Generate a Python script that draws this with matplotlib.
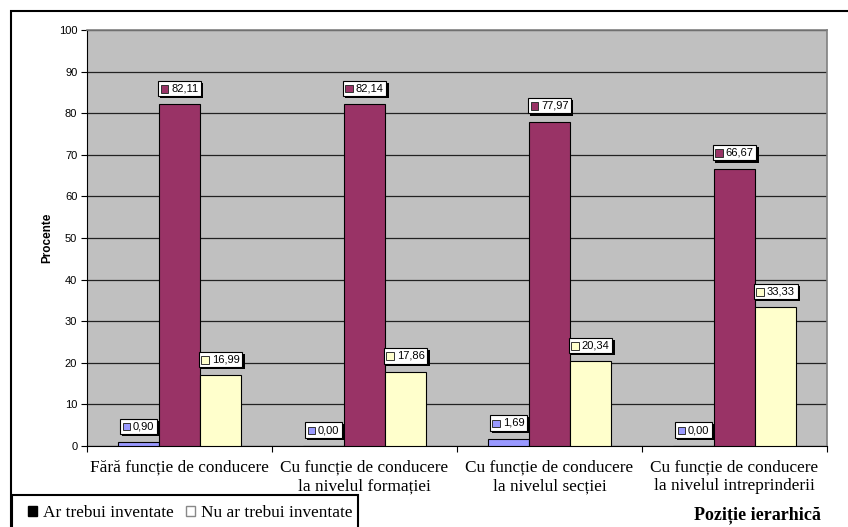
import matplotlib
matplotlib.use("Agg")
import matplotlib.pyplot as plt
import numpy as np
from matplotlib.patches import Rectangle, Patch
from matplotlib.offsetbox import AnnotationBbox, HPacker, TextArea, DrawingArea
from matplotlib import patheffects as pe

categories = ["Fără funcție de conducere",
              "Cu funcție de conducere\nla nivelul formației",
              "Cu funcție de conducere\nla nivelul secției",
              "Cu funcție de conducere\nla nivelul intreprinderii"]
blue_vals = [0.90, 0.00, 1.69, 0.00]
purple_vals = [82.11, 82.14, 77.97, 66.67]
yellow_vals = [16.99, 17.86, 20.34, 33.33]
colors = ["#9999FF", "#993366", "#FFFFCC"]
legend_labels = ["Ar trebui inventate", "Nu ar trebui inventate"]

fig = plt.figure(figsize=(8.48, 5.27), dpi=100)
ax = fig.add_axes([87/848, 1-446/527, (827-87)/848, (446-30)/527])
ax.set_facecolor("#C0C0C0")

x = np.arange(len(categories))
w = 0.222
series = [blue_vals, purple_vals, yellow_vals]
for i, (vals, c) in enumerate(zip(series, colors)):
    pos = x + (i - 1) * w
    ax.bar(pos, vals, width=w, color=c, edgecolor="black", linewidth=0.8, zorder=3)
    for p, v in zip(pos, vals):
        sq = DrawingArea(6, 6, 0, 0)
        sq.add_artist(Rectangle((0, 0), 5.5, 5.5, facecolor=c, edgecolor="#333333", linewidth=0.7))
        ta = TextArea(f"{v:.2f}".replace(".", ","),
                      textprops=dict(fontsize=8, family="Liberation Sans", color="black"))
        box = HPacker(children=[sq, ta], align="center", pad=0, sep=1.5)
        ab = AnnotationBbox(box, (p, v), xybox=(0, 11.5), xycoords="data",
                            boxcoords="offset points", frameon=True, pad=0.2,
                            box_alignment=(0.5, 0.5), zorder=5,
                            bboxprops=dict(facecolor="white", edgecolor="black",
                                           linewidth=0.8, boxstyle="square,pad=0.2"))
        ab.patch.set_path_effects([pe.SimplePatchShadow(offset=(1.5, -1.5), shadow_rgbFace="black", alpha=1.0), pe.Normal()])
        ax.add_artist(ab)

ax.set_xlim(-0.5, len(categories) - 0.5)
ax.set_ylim(0, 100)
ax.set_yticks(np.arange(0, 101, 10))
ax.set_yticklabels([str(t) for t in range(0, 101, 10)], fontsize=8, family="Liberation Sans")
ax.grid(axis="y", color="#222222", linewidth=0.9, zorder=1)
ax.set_xticks(x)
ax.set_xticklabels(categories, fontsize=12.4, family="Liberation Serif", linespacing=1.2)
ax.set_xticks(np.arange(-0.5, len(categories), 1), minor=True)
ax.tick_params(axis="x", which="major", length=0, pad=10)
ax.tick_params(axis="x", which="minor", length=4, width=0.8, direction="out")
ax.tick_params(axis="y", length=4, width=0.8, direction="out", pad=3)
ax.set_ylabel("Procente", fontsize=8.5, family="Liberation Sans", fontweight="bold", labelpad=4)
for s in ["top", "right"]:
    ax.spines[s].set_color("#808080")
    ax.spines[s].set_linewidth(1.2)
ax.spines["left"].set_color("black")
ax.spines["bottom"].set_color("black")

# outer border
fig.patches.append(Rectangle((11/848, -0.02), 1.0, 1 - 11/527 + 0.02, transform=fig.transFigure,
                             fill=False, edgecolor="black", linewidth=1.5))
# legend frame
fig.patches.append(Rectangle((12/848, -0.02), (358-12)/848, 1 - 495/527 + 0.02, transform=fig.transFigure,
                             fill=True, facecolor="white", edgecolor="black", linewidth=1.5, zorder=2))

handles = [Patch(facecolor="black", edgecolor="black"), Patch(facecolor="white", edgecolor="#888888")]
leg = fig.legend(handles, legend_labels, ncol=2,
                 loc="upper left", bbox_to_anchor=(28/848, 1 - 505/527),
                 prop=dict(family="Liberation Serif", size=12.4), frameon=False,
                 borderaxespad=0, borderpad=0, handlelength=0.5,
                 handleheight=0.5, handletextpad=0.35, columnspacing=0.75)
leg.set_zorder(3)

fig.text(821/848, 1 - 515/527, "Poziție ierarhică", ha="right", va="center",
         fontsize=13, family="Liberation Serif", fontweight="bold")

fig.savefig("out.png", dpi=100)
